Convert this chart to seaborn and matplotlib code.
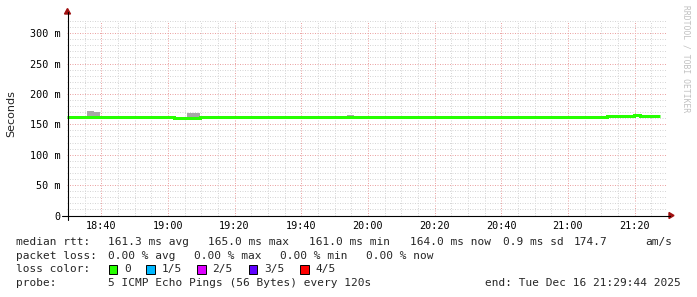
import numpy as np
import pandas as pd
import matplotlib
matplotlib.use("Agg")
import matplotlib.pyplot as plt
import seaborn as sns
from matplotlib.ticker import MultipleLocator, FixedLocator
from matplotlib.patches import Rectangle, Polygon
from matplotlib.lines import Line2D

# ---------------- data ----------------
range_start = "18:29:44"
range_end = "21:29:44"
seg_start = ["18:29:44", "18:35:44", "18:37:44", "18:39:44", "19:01:44",
             "19:05:44", "19:09:44", "19:53:44", "19:55:44", "20:35:44",
             "21:11:44", "21:13:44", "21:15:44", "21:19:44", "21:21:44"]
data_end = "21:27:44"
median_ms = [161.5, 161.5, 161.5, 161.5, 161.0,
             161.0, 161.5, 161.5, 161.5, 162.0,
             163.0, 164.5, 164.5, 165.0, 164.0]
smoke_top_ms = [np.nan, 171.4, 169.8, np.nan, np.nan,
                168.6, np.nan, 164.8, np.nan, np.nan,
                np.nan, np.nan, np.nan, np.nan, np.nan]

x_tick_labels = ["18:40", "19:00", "19:20", "19:40", "20:00",
                 "20:20", "20:40", "21:00", "21:20"]
y_ticks_ms = [0, 50, 100, 150, 200, 250, 300]
y_tick_labels = ["0", "50 m", "100 m", "150 m", "200 m", "250 m", "300 m"]
y_top_ms = 320

legend_row1 = [("median rtt:", 16), ("161.3 ms avg", 108), ("165.0 ms max", 208.5),
               ("161.0 ms min", 309), ("164.0 ms now", 410), ("0.9 ms sd", 503),
               ("174.7", 574), ("am/s", 645)]
legend_row2 = [("packet loss:", 16), ("0.00 % avg", 108), ("0.00 % max", 194),
               ("0.00 % min", 280), ("0.00 % now", 366)]
loss_labels = ["0", "1/5", "2/5", "3/5", "4/5"]
loss_colors = ["#26ff00", "#00b8ff", "#dd00ff", "#5e00ff", "#ff0000"]
probe_text = "5 ICMP Echo Pings (56 Bytes) every 120s"
end_text = "end: Tue Dec 16 21:29:44 2025"
watermark = "RRDTOOL / TOBI OETIKER"


def to_min(s):
    parts = [int(p) for p in s.split(":")]
    while len(parts) < 3:
        parts.append(0)
    return parts[0] * 60 + parts[1] + parts[2] / 60.0


t = [to_min(s) for s in seg_start] + [to_min(data_end)]
med = np.array(median_ms + [median_ms[-1]])
df = pd.DataFrame({"t": t, "median": med})
smoke_raw = np.array(smoke_top_ms + [smoke_top_ms[-1]])
smoke = np.where(np.isnan(smoke_raw), med, smoke_raw)

# ---------------- figure ----------------
sns.set_theme(style="white")
plt.rcParams["font.family"] = ["DejaVu Sans Mono"]

W, H = 697, 297
fig = plt.figure(figsize=(W / 100, H / 100), dpi=100)
fig.patch.set_facecolor("white")

ax_left, ax_right, ax_bottom, ax_top = 67, 667, 215.5, 21
ax = fig.add_axes([ax_left / W, (H - ax_bottom) / H,
                   (ax_right - ax_left) / W, (ax_bottom - ax_top) / H])
ax.set_facecolor("white")
ax.set_xlim(to_min(range_start), to_min(range_end))
ax.set_ylim(0, y_top_ms)
for sp in ax.spines.values():
    sp.set_visible(False)

# grid
ax.xaxis.set_major_locator(FixedLocator([to_min(s) for s in x_tick_labels]))
ax.xaxis.set_minor_locator(MultipleLocator(5))
ax.yaxis.set_major_locator(FixedLocator(y_ticks_ms))
ax.yaxis.set_minor_locator(MultipleLocator(10))
ax.set_xticklabels(x_tick_labels)
ax.set_yticklabels(y_tick_labels)
ax.grid(which="minor", color="#d6d6d6", linestyle=(0, (1, 1.5)), linewidth=0.72)
ax.grid(which="major", color="#eba3a3", linestyle=(0, (1, 1.5)), linewidth=0.72)
ax.set_axisbelow(True)
ax.tick_params(which="both", length=0)
ax.tick_params(axis="x", labelsize=7.3, pad=4.0, colors="black")
ax.tick_params(axis="y", labelsize=7.3, pad=4.6, colors="black")

# smoke
ax.fill_between(df["t"], df["median"], smoke, step="post",
                color="#a6a6a6", linewidth=0, zorder=2)
# median line
sns.lineplot(data=df, x="t", y="median", drawstyle="steps-post",
             color="#26ff00", linewidth=2.16, ax=ax, legend=False,
             zorder=3, solid_joinstyle="miter", solid_capstyle="butt")
ax.set_xlabel("")
ax.set_ylabel("")


def fx(x):
    return x / W


def fy(y):
    return 1 - y / H


# axes lines with arrows
fig.add_artist(Line2D([fx(62), fx(670)], [fy(215.5), fy(215.5)],
                      color="black", lw=0.8, transform=fig.transFigure))
fig.add_artist(Line2D([fx(67.5), fx(67.5)], [fy(220), fy(12)],
                      color="black", lw=0.8, transform=fig.transFigure))
fig.add_artist(Polygon([[fx(669), fy(212.5)], [fx(674), fy(215.5)], [fx(669), fy(218.5)]],
                       closed=True, color="#a01010", transform=fig.transFigure))
fig.add_artist(Polygon([[fx(64.5), fy(14)], [fx(67.5), fy(8.5)], [fx(70.5), fy(14)]],
                       closed=True, color="#a01010", transform=fig.transFigure))

# y label
fig.text(fx(11), fy(114), "Seconds", rotation=90, ha="center", va="center",
         fontsize=8, family="DejaVu Sans", color="#222222")

# watermark
fig.text(fx(686), fy(5), watermark, rotation=270, ha="center", va="top",
         fontsize=5.8, color="#c0c0c0")

# legend texts
fs = 8.0
row_y = [241.7, 255.7, 269.3, 283.3]
for txt, x in legend_row1:
    fig.text(fx(x), fy(row_y[0]), txt, ha="left", va="center", fontsize=fs)
for txt, x in legend_row2:
    fig.text(fx(x), fy(row_y[1]), txt, ha="left", va="center", fontsize=fs)
fig.text(fx(16), fy(row_y[2]), "loss color:", ha="left", va="center", fontsize=fs)
box_x = [108.5, 146, 197, 248.7, 300]
for lab, col, bx in zip(loss_labels, loss_colors, box_x):
    fig.add_artist(Rectangle((fx(bx), fy(273.5)), 8.5 / W, 8.5 / H,
                             facecolor=col, edgecolor="black", lw=0.7,
                             transform=fig.transFigure))
    fig.text(fx(bx + 15.5), fy(row_y[2]), lab, ha="left", va="center", fontsize=fs)
fig.text(fx(16), fy(row_y[3]), "probe:", ha="left", va="center", fontsize=fs)
fig.text(fx(108), fy(row_y[3]), probe_text, ha="left", va="center", fontsize=fs)
fig.text(fx(681), fy(row_y[3]), end_text, ha="right", va="center", fontsize=fs)

fig.savefig("out.png", dpi=100, facecolor="white")
